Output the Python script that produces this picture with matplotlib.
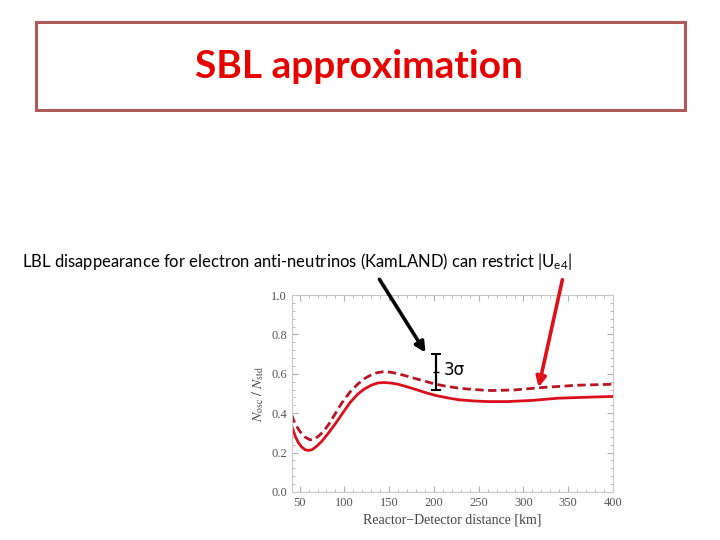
import matplotlib
matplotlib.use("Agg")
import matplotlib.pyplot as plt
from matplotlib.patches import Rectangle
from matplotlib.ticker import MultipleLocator

# curves (distance in km, N_osc / N_std)
dist_solid = [41, 45, 48.5, 52, 56, 59.8, 64, 69, 74.7, 82, 89.7, 98, 106.5, 115, 122,
              130, 137, 144, 152, 160, 170, 180, 191, 202, 215, 228, 245, 260, 282,
              310, 338, 370, 400]
ratio_solid = [0.336, 0.285, 0.251, 0.230, 0.215, 0.211, 0.215, 0.232, 0.257, 0.298,
               0.345, 0.400, 0.455, 0.497, 0.522, 0.542, 0.553, 0.556, 0.553, 0.547,
               0.534, 0.520, 0.504, 0.490, 0.478, 0.468, 0.462, 0.459, 0.459, 0.465,
               0.476, 0.481, 0.485]

dist_dash = [41, 45, 50.4, 56, 61.6, 66, 71, 76.6, 82, 87.8, 97, 106, 115, 123, 130,
             137, 144, 152, 160, 170, 180, 191, 202, 215, 228, 245, 264, 290, 320,
             360, 400]
ratio_dash = [0.392, 0.345, 0.307, 0.279, 0.265, 0.268, 0.283, 0.307, 0.340, 0.383,
              0.451, 0.506, 0.548, 0.577, 0.595, 0.606, 0.611, 0.608, 0.600, 0.588,
              0.575, 0.561, 0.547, 0.536, 0.527, 0.520, 0.515, 0.518, 0.530, 0.542,
              0.547]

# 3 sigma bar
bar_x = 202
bar_lo, bar_hi = 0.518, 0.70

x_ticks = [50, 100, 150, 200, 250, 300, 350, 400]
y_ticks = [0.0, 0.2, 0.4, 0.6, 0.8, 1.0]

plt.rcParams["mathtext.fontset"] = "stix"
fig = plt.figure(figsize=(7.2, 5.4), dpi=100)

# slide header box
fig.patches.append(Rectangle((36 / 720, 1 - 110 / 540), 649 / 720, 88 / 540,
                             transform=fig.transFigure, fill=False,
                             edgecolor="#b05a5a", linewidth=2.2))
fig.text(359 / 720, 1 - 67 / 540, "SBL approximation", ha="center", va="center",
         color="#e60000", fontsize=28, fontweight="bold", family="Lato")
fig.text(22 / 720, 1 - 261 / 540,
         r"LBL disappearance for electron anti-neutrinos (KamLAND) can restrict $\mathregular{|U_{e4}|}$",
         ha="left", va="center", fontsize=12, family="Lato", color="black")

ax = fig.add_axes([292 / 720, 1 - 492 / 540, 321 / 720, 197 / 540])
ax.plot(dist_solid, ratio_solid, color="#d8101c", lw=2.0)
ax.plot(dist_dash, ratio_dash, color="#b81424", lw=2.0, dashes=(3, 1.6))

mid = (bar_lo + bar_hi) / 2
ax.errorbar([bar_x], [mid], yerr=[[mid - bar_lo], [bar_hi - mid]], fmt="none",
            ecolor="black", elinewidth=1.6, capsize=3.5, capthick=1.4)
ax.plot([bar_x], [mid], marker="_", color="black", ms=5, mew=1)
ax.text(bar_x + 9, mid + 0.01, "3\u03c3", ha="left", va="center", fontsize=12,
        family="DejaVu Sans")

ax.set_xlim(41.5, 400)
ax.set_ylim(0, 1.0)
ax.set_xticks(x_ticks)
ax.set_yticks(y_ticks)
ax.set_yticklabels([f"{v:.1f}" for v in y_ticks])
ax.xaxis.set_minor_locator(MultipleLocator(10))
ax.yaxis.set_minor_locator(MultipleLocator(0.04))
ax.tick_params(which="both", direction="in", top=True, right=True,
               color="#b0b0b0", labelcolor="#555555", labelsize=9)
ax.tick_params(which="major", length=4)
ax.tick_params(which="minor", length=2)
for lbl in ax.get_xticklabels() + ax.get_yticklabels():
    lbl.set_family("Liberation Serif")
for sp in ax.spines.values():
    sp.set_color("#c8c8c8")
    sp.set_linewidth(0.8)

ax.set_xlabel("Reactor\u2212Detector distance [km]", family="Liberation Serif",
              fontsize=10, color="#444444", labelpad=3)
ax.set_ylabel(r"$N_{\mathrm{osc}}\ /\ N_{\mathrm{std}}$", fontsize=10,
              color="#444444", labelpad=4)

# arrows from the sentence to the plot
ax.annotate("", xy=(427 / 720, 1 - 355 / 540), xycoords="figure fraction",
            xytext=(378 / 720, 1 - 277 / 540), textcoords="figure fraction",
            arrowprops=dict(arrowstyle="-|>,head_length=0.6,head_width=0.3",
                            color="black", lw=2.6))
ax.annotate("", xy=(538 / 720, 1 - 390 / 540), xycoords="figure fraction",
            xytext=(563 / 720, 1 - 277 / 540), textcoords="figure fraction",
            arrowprops=dict(arrowstyle="-|>,head_length=0.6,head_width=0.3",
                            color="#e0101a", lw=2.6))

fig.savefig("out.png", dpi=100)
